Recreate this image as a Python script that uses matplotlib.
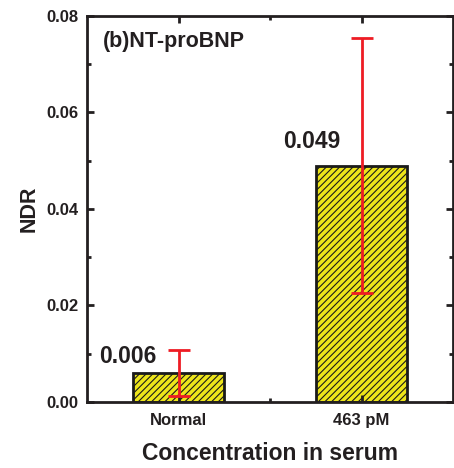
import numpy as np
import matplotlib.pyplot as plt
from matplotlib.ticker import MultipleLocator, FixedLocator

plt.rcParams['font.family'] = ['Liberation Sans', 'DejaVu Sans']
plt.rcParams['font.weight'] = 'bold'
plt.rcParams['hatch.linewidth'] = 0.8

categories = ['Normal', '463 pM']
ndr = [0.006, 0.049]
err = [0.0048, 0.0265]
labels = ['0.006', '0.049']

fig = plt.figure(figsize=(4.54, 4.68), dpi=100)
ax = fig.add_axes([0.192, 0.141, 0.806, 0.825])

x = np.arange(1, len(categories) + 1)
ax.bar(x, ndr, width=0.5, color='#ede51a', edgecolor='#1a1a1a',
       linewidth=2, hatch='/////')
ax.errorbar(x, ndr, yerr=err, fmt='none', ecolor='#ee1c24',
            elinewidth=2, capsize=8, capthick=2)

# value labels, up-left of each bar
ax.text(x[0] - 0.28, ndr[0] + 0.0021, labels[0], ha='center', va='baseline',
        fontsize=16.5, fontweight='bold', color='#231f20')
ax.text(x[1] - 0.27, ndr[1] + 0.0036, labels[1], ha='center', va='baseline',
        fontsize=16.5, fontweight='bold', color='#231f20')
ax.text(0.044, 0.92, '(b)NT-proBNP', transform=ax.transAxes, ha='left',
        va='baseline', fontsize=15.5, fontweight='bold', color='#231f20')

ax.set_xlim(0.5, 2.5)
ax.set_ylim(0, 0.08)
ax.set_xticks(x)
ax.set_xticklabels(categories)
ax.xaxis.set_minor_locator(FixedLocator([1.5]))
ax.yaxis.set_major_locator(MultipleLocator(0.02))
ax.yaxis.set_minor_locator(MultipleLocator(0.01))
ax.yaxis.set_major_formatter(plt.FormatStrFormatter('%.2f'))

ax.tick_params(which='both', direction='in', top=True, right=True,
               width=2, colors='#231f20', labelsize=12)
ax.tick_params(which='major', length=5)
ax.tick_params(which='minor', length=3)
ax.tick_params(axis='x', pad=8)
ax.tick_params(axis='y', pad=6)
for s in ax.spines.values():
    s.set_linewidth(2)
    s.set_color('#231f20')

ax.set_xlabel('Concentration in serum', fontsize=16.5, fontweight='bold',
              color='#231f20', labelpad=10)
ax.set_ylabel('NDR', fontsize=15.5, fontweight='bold', color='#231f20',
              labelpad=5)

fig.savefig('out.png', dpi=100)
